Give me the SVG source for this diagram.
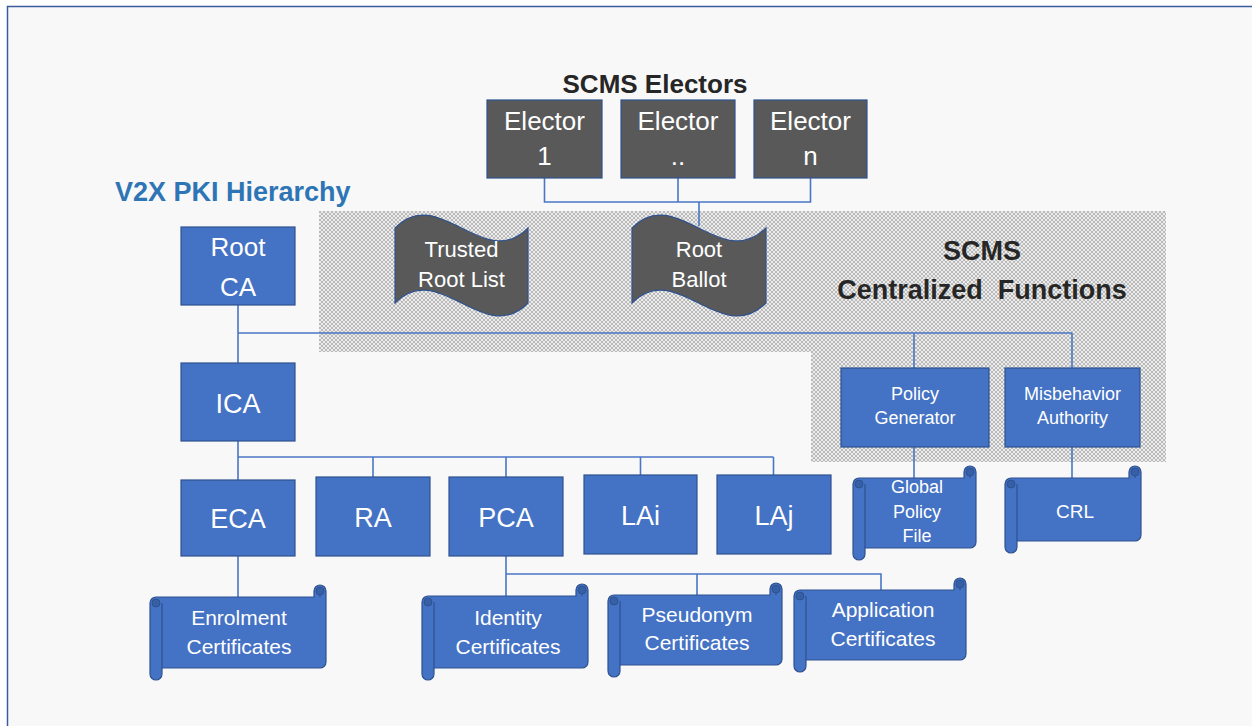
<svg xmlns="http://www.w3.org/2000/svg" width="1252" height="726" viewBox="0 0 1252 726">
<style>
.box{fill:#4472c4;stroke:#2f528f;stroke-width:1.2}
.dark{fill:#595959;stroke:#2f528f;stroke-width:1.2}
.scroll{fill:#4472c4;stroke:#2f528f;stroke-width:1.2}
.curl{fill:#3560a8;stroke:#2f528f;stroke-width:1}
.inner{fill:none;stroke:#2f528f;stroke-width:1.2}
.t{font-family:"Liberation Sans",Arial,sans-serif;fill:#ffffff;text-anchor:middle}
.ttl{font-family:"Liberation Sans",Arial,sans-serif;font-weight:bold;fill:#262626;text-anchor:middle}
.conn{fill:none;stroke:#4a76c6;stroke-width:1.6}
</style>
<defs>
<pattern id="hatch" width="4" height="4" patternUnits="userSpaceOnUse">
<rect width="4" height="4" fill="#ececec"/>
<path d="M0,0 L4,4 M4,0 L0,4" stroke="#b4b4b4" stroke-width="0.9"/>
</pattern>
</defs>
<rect x="0" y="0" width="1252" height="726" fill="#ffffff"/>
<rect x="7" y="6" width="1250" height="725" fill="#f8f8f8"/>
<path d="M7.5,726 L7.5,6.5 L1252,6.5" fill="none" stroke="#3b5c9c" stroke-width="1.5"/>
<path id="scms-area" d="M319,211 L1166,211 L1166,462 L811,462 L811,352 L319,352 Z" fill="url(#hatch)"/>

<text class="ttl" x="655" y="93" font-size="26">SCMS Electors</text>
<text x="115" y="201" font-size="27" font-family="Liberation Sans,Arial,sans-serif" font-weight="bold" fill="#2e75b6">V2X PKI Hierarchy</text>
<text class="ttl" x="982" y="260" font-size="27">SCMS</text>
<text class="ttl" x="982" y="299" font-size="27" xml:space="preserve">Centralized  Functions</text>

<g id="connectors">
<path class="conn" d="M544.5,178 L544.5,202 L810.5,202 L810.5,178 M678,178 L678,202 M699,202 L699,226"/>
<path class="conn" d="M238,305 L238,363 M238,333 L1072,333 M914,333 L914,368 M1072,333 L1072,368"/>
<path class="conn" d="M238,441 L238,480 M238,457 L773.5,457 M373,457 L373,477 M506,457 L506,477 M640.5,457 L640.5,475 M773.5,457 L773.5,475"/>
<path class="conn" d="M238,556 L238,597 M506,556 L506,596 M506,574 L881,574 L881,590 M697,574 L697,595"/>
<path class="conn" d="M914,447 L914,478 M1072,447 L1072,478"/>
</g>

<g id="elector1"><rect class="dark" x="487" y="100" width="115" height="78"/><text class="t" x="544.5" y="130" font-size="26">Elector</text><text class="t" x="544.5" y="165" font-size="26">1</text></g>
<g id="elector2"><rect class="dark" x="621" y="100" width="114" height="78"/><text class="t" x="678" y="130" font-size="26">Elector</text><text class="t" x="678" y="165" font-size="26">..</text></g>
<g id="electorn"><rect class="dark" x="754" y="100" width="113" height="78"/><text class="t" x="810.5" y="130" font-size="26">Elector</text><text class="t" x="810.5" y="165" font-size="26">n</text></g>

<g id="trusted-root-list"><path class="dark" d="M395,228 C439,183 484,273 528,228 L528,303 C484,348 439,258 395,303 Z"/><text class="t" x="461.5" y="257" font-size="22">Trusted</text><text class="t" x="461.5" y="287" font-size="22">Root List</text></g>
<g id="root-ballot"><path class="dark" d="M632,228 C676,183 721,273 766,228 L766,303 C721,348 676,258 632,303 Z"/><text class="t" x="699" y="257" font-size="22">Root</text><text class="t" x="699" y="287" font-size="22">Ballot</text></g>

<g id="rootca"><rect class="box" x="181" y="227" width="114" height="78"/><text class="t" x="238" y="256" font-size="26">Root</text><text class="t" x="238" y="296" font-size="26">CA</text></g>
<g id="ica"><rect class="box" x="181" y="363" width="114" height="78"/><text class="t" x="238" y="413" font-size="27">ICA</text></g>
<g id="eca"><rect class="box" x="181" y="480" width="114" height="76"/><text class="t" x="238" y="528" font-size="27">ECA</text></g>
<g id="ra"><rect class="box" x="316" y="477" width="114" height="79"/><text class="t" x="373" y="527" font-size="27">RA</text></g>
<g id="pca"><rect class="box" x="449" y="477" width="114" height="79"/><text class="t" x="506" y="527" font-size="27">PCA</text></g>
<g id="lai"><rect class="box" x="584" y="475" width="113" height="79"/><text class="t" x="640.5" y="525" font-size="27">LAi</text></g>
<g id="laj"><rect class="box" x="717" y="475" width="114" height="79"/><text class="t" x="774" y="525" font-size="27">LAj</text></g>

<g id="policy-generator"><rect class="box" x="841" y="368" width="148" height="79"/><text class="t" x="915" y="400" font-size="18">Policy</text><text class="t" x="915" y="424" font-size="18">Generator</text></g>
<g id="misbehavior-authority"><rect class="box" x="1005" y="368" width="135" height="79"/><text class="t" x="1072.5" y="400" font-size="18">Misbehavior</text><text class="t" x="1072.5" y="424" font-size="18">Authority</text></g>

<g id="global-policy-file">
<path class="scroll" d="M853,484 A6,6 0 0 1 859,478 L964,478 L964,472 A6,6 0 0 1 976,472 L976,542 A6,6 0 0 1 970,548 L865,548 L865,554 A6,6 0 0 1 853,554 Z"/>
<path class="inner" d="M865,484 L865,548 M970,478 L970,472"/><circle class="curl" cx="859" cy="484" r="4"/><circle class="curl" cx="970" cy="472" r="4"/>
<text class="t" x="917" y="493" font-size="18">Global</text><text class="t" x="917" y="518" font-size="18">Policy</text><text class="t" x="917" y="542" font-size="18">File</text>
</g>
<g id="crl">
<path class="scroll" d="M1005,484 A6,6 0 0 1 1011,478 L1129,478 L1129,472 A6,6 0 0 1 1141,472 L1141,535 A6,6 0 0 1 1135,541 L1017,541 L1017,547 A6,6 0 0 1 1005,547 Z"/>
<path class="inner" d="M1017,484 L1017,541 M1135,478 L1135,472"/><circle class="curl" cx="1011" cy="484" r="4"/><circle class="curl" cx="1135" cy="472" r="4"/>
<text class="t" x="1075" y="518" font-size="19">CRL</text>
</g>
<g id="enrolment-certificates">
<path class="scroll" d="M150,603 A6,6 0 0 1 156,597 L314,597 L314,591 A6,6 0 0 1 326,591 L326,662 A6,6 0 0 1 320,668 L162,668 L162,674 A6,6 0 0 1 150,674 Z"/>
<path class="inner" d="M162,603 L162,668 M320,597 L320,591"/><circle class="curl" cx="156" cy="603" r="4"/><circle class="curl" cx="320" cy="591" r="4"/>
<text class="t" x="239" y="625" font-size="21">Enrolment</text><text class="t" x="239" y="654" font-size="21">Certificates</text>
</g>
<g id="identity-certificates">
<path class="scroll" d="M422,602 A6,6 0 0 1 428,596 L576,596 L576,590 A6,6 0 0 1 588,590 L588,662 A6,6 0 0 1 582,668 L434,668 L434,674 A6,6 0 0 1 422,674 Z"/>
<path class="inner" d="M434,602 L434,668 M582,596 L582,590"/><circle class="curl" cx="428" cy="602" r="4"/><circle class="curl" cx="582" cy="590" r="4"/>
<text class="t" x="508" y="625" font-size="21">Identity</text><text class="t" x="508" y="654" font-size="21">Certificates</text>
</g>
<g id="pseudonym-certificates">
<path class="scroll" d="M608,601 A6,6 0 0 1 614,595 L770,595 L770,589 A6,6 0 0 1 782,589 L782,659 A6,6 0 0 1 776,665 L620,665 L620,671 A6,6 0 0 1 608,671 Z"/>
<path class="inner" d="M620,601 L620,665 M776,595 L776,589"/><circle class="curl" cx="614" cy="601" r="4"/><circle class="curl" cx="776" cy="589" r="4"/>
<text class="t" x="697" y="622" font-size="21">Pseudonym</text><text class="t" x="697" y="650" font-size="21">Certificates</text>
</g>
<g id="application-certificates">
<path class="scroll" d="M794,596 A6,6 0 0 1 800,590 L954,590 L954,584 A6,6 0 0 1 966,584 L966,654 A6,6 0 0 1 960,660 L806,660 L806,666 A6,6 0 0 1 794,666 Z"/>
<path class="inner" d="M806,596 L806,660 M960,590 L960,584"/><circle class="curl" cx="800" cy="596" r="4"/><circle class="curl" cx="960" cy="584" r="4"/>
<text class="t" x="883" y="617" font-size="21">Application</text><text class="t" x="883" y="646" font-size="21">Certificates</text>
</g>
</svg>
